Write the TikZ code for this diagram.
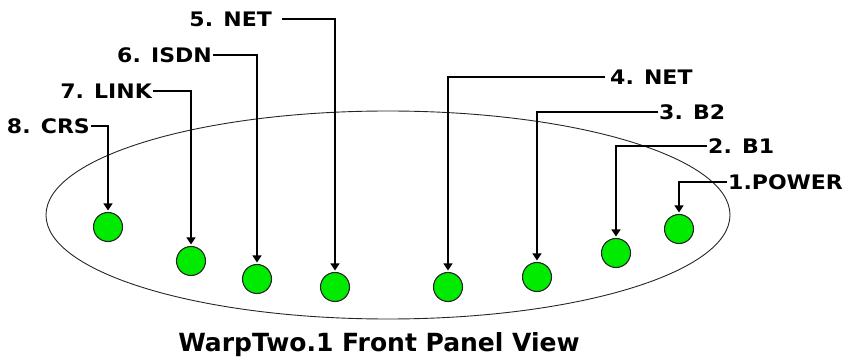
\documentclass[tikz,border=0pt]{standalone}
\usepackage{fontspec}
\setmainfont{DejaVu Sans}
\newfontfamily\lblfont[FakeStretch=1.1]{DejaVu Sans Bold}
\newfontfamily\capfont{DejaVu Sans Bold}
\usetikzlibrary{arrows.meta}
\definecolor{ledgreen}{RGB}{0,235,0}
\begin{document}
\begin{tikzpicture}[x=1pt,y=-1pt,
  led/.style={circle,draw=black!85,line width=1.1pt,fill=ledgreen,minimum size=29pt,inner sep=0pt},
  lbl/.style={font=\lblfont\fontsize{20}{24}\selectfont,inner ysep=0pt,inner xsep=1pt},
  arr/.style={line width=1.2pt,-{Triangle[width=9pt,length=7pt]},shorten >=1.5pt}]
\useasboundingbox (0,0) rectangle (860,358);
% panel outline
\draw[line width=0.9pt,black!85] (388,215) ellipse [x radius=342pt, y radius=104pt];
% LEDs
\node[led] (d8) at (108,227) {};
\node[led] (d7) at (191,261) {};
\node[led] (d6) at (257,279) {};
\node[led] (d5) at (335,287) {};
\node[led] (d4) at (448,287) {};
\node[led] (d3) at (537,277) {};
\node[led] (d2) at (616,253) {};
\node[led] (d1) at (679,229) {};
% labels
\node[lbl,anchor=east,inner xsep=10pt] (l5) at (282,19) {5. NET};
\node[lbl,anchor=east] (l6) at (213,55) {6. ISDN};
\node[lbl,anchor=east] (l7) at (153,91) {7. LINK};
\node[lbl,anchor=east] (l8) at (91,126) {8. CRS};
\node[lbl,anchor=west,inner xsep=5pt] (l4) at (605,77) {4. NET};
\node[lbl,anchor=west] (l3) at (658,112) {3. B2};
\node[lbl,anchor=west] (l2) at (707,146) {2. B1};
\node[lbl,anchor=west] (l1) at (727,182) {1.POWER};
% connectors
\draw[arr] (l8.east) -| (d8.north);
\draw[arr] (l7.east) -| (d7.north);
\draw[arr] (l6.east) -| (d6.north);
\draw[arr] (l5.east) -| (d5.north);
\draw[arr] (l4.west) -| (d4.north);
\draw[arr] (l3.west) -| (d3.north);
\draw[arr] (l2.west) -| (d2.north);
\draw[arr] (l1.west) -| (d1.north);
% caption
\node[font=\capfont\fontsize{25}{30}\selectfont,anchor=base,inner sep=0pt] (cap) at (379,351) {WarpTwo.1 Front Panel View};
\end{tikzpicture}
\end{document}
